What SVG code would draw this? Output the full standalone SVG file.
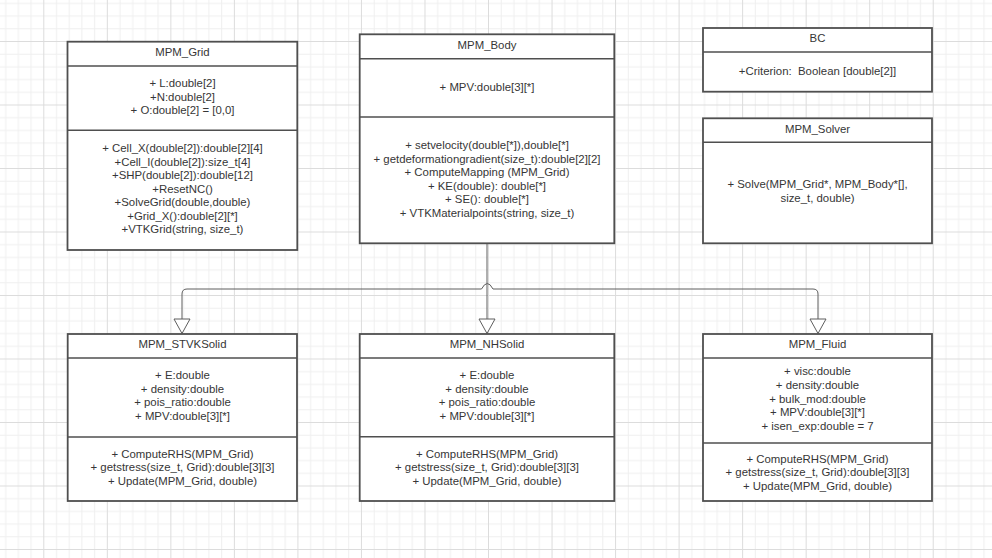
<svg xmlns="http://www.w3.org/2000/svg" width="992" height="558" viewBox="0 0 992 558">
  <defs>
    <!-- background grid: 5 minor cells per major cell -->
    <pattern id="grid" patternUnits="userSpaceOnUse" x="43.3" y="41" width="63.53" height="63.5">
      <g fill="#efefef">
        <rect x="12.7" y="0" width="1" height="63.5"/>
        <rect x="25.4" y="0" width="1" height="63.5"/>
        <rect x="38.1" y="0" width="1" height="63.5"/>
        <rect x="50.8" y="0" width="1" height="63.5"/>
        <rect x="0" y="12.7" width="63.53" height="1"/>
        <rect x="0" y="25.4" width="63.53" height="1"/>
        <rect x="0" y="38.1" width="63.53" height="1"/>
        <rect x="0" y="50.8" width="63.53" height="1"/>
      </g>
      <g fill="#dcdcdc">
        <rect x="0" y="0" width="1" height="63.5"/>
        <rect x="0" y="0" width="63.53" height="1"/>
      </g>
    </pattern>
  </defs>
  <style>
    .box { fill: #ffffff; stroke: #4f4f4f; stroke-width: 1.8; }
    .sep { stroke: #4f4f4f; stroke-width: 1.5; fill: none; }
    text { font-family: "Liberation Sans", Arial, sans-serif; font-size: 11.4px; fill: #363636; text-anchor: middle; }
    .edge { fill: none; stroke: #5e5e5e; stroke-width: 1; }
    .head { fill: #ffffff; stroke: #5e5e5e; stroke-width: 1; }
  </style>

  <rect x="0" y="0" width="992" height="558" fill="#ffffff"/>
  <rect x="0" y="0" width="992" height="558" fill="url(#grid)"/>

  <!-- generalization connectors from MPM_Body to the three subclasses -->
  <g id="connectors">
    <path class="edge" d="M487,243.3 V319"/>
    <path class="edge" d="M481.5,289 H187 Q182,289 182,294 V319"/>
    <path class="edge" d="M481.5,289 Q487.3,278 493,289 H813 Q818,289 818,294 V319"/>
    <polygon class="head" points="174,319 190,319 182,333.5"/>
    <polygon class="head" points="479,319 495,319 487,333.5"/>
    <polygon class="head" points="810,319 826,319 818,333.5"/>
  </g>

  <g id="MPM_Grid">
    <rect class="box" x="67.5" y="41.7" width="229.8" height="208.3"/>
    <line class="sep" x1="67.5" y1="66" x2="297.3" y2="66"/>
    <line class="sep" x1="67.5" y1="130.3" x2="297.3" y2="130.3"/>
    <text x="182.5" y="56.3">MPM_Grid</text>
    <text x="182.5" y="87.3">+ L:double[2]</text>
    <text x="182.5" y="100.8">+N:double[2]</text>
    <text x="182.5" y="114.3">+ O:double[2] = [0,0]</text>
    <text x="182.5" y="152.3">+ Cell_X(double[2]):double[2][4]</text>
    <text x="182.5" y="165.8">+Cell_I(double[2]):size_t[4]</text>
    <text x="182.5" y="179.3">+SHP(double[2]):double[12]</text>
    <text x="182.5" y="192.8">+ResetNC()</text>
    <text x="182.5" y="206.3">+SolveGrid(double,double)</text>
    <text x="182.5" y="219.8">+Grid_X():double[2][*]</text>
    <text x="182.5" y="233.3">+VTKGrid(string, size_t)</text>
  </g>

  <g id="MPM_Body">
    <rect class="box" x="359.7" y="34.3" width="254.6" height="209"/>
    <line class="sep" x1="359.7" y1="58.7" x2="614.3" y2="58.7"/>
    <line class="sep" x1="359.7" y1="117" x2="614.3" y2="117"/>
    <text x="487" y="49.3">MPM_Body</text>
    <text x="487" y="91.3">+ MPV:double[3][*]</text>
    <text x="487" y="149">+ setvelocity(double[*]),double[*]</text>
    <text x="487" y="162.6">+ getdeformationgradient(size_t):double[2][2]</text>
    <text x="487" y="176.2">+ ComputeMapping (MPM_Grid)</text>
    <text x="487" y="189.8">+ KE(double): double[*]</text>
    <text x="487" y="203.4">+ SE(): double[*]</text>
    <text x="487" y="217">+ VTKMaterialpoints(string, size_t)</text>
  </g>

  <g id="BC">
    <rect class="box" x="703" y="28" width="229" height="63.7"/>
    <line class="sep" x1="703" y1="52" x2="932" y2="52"/>
    <text x="817.5" y="42.3">BC</text>
    <text x="817.5" y="74.7" xml:space="preserve">+Criterion:  Boolean [double[2]]</text>
  </g>

  <g id="MPM_Solver">
    <rect class="box" x="703" y="118.3" width="229" height="125"/>
    <line class="sep" x1="703" y1="142.3" x2="932" y2="142.3"/>
    <text x="817.5" y="132.7">MPM_Solver</text>
    <text x="817.5" y="188.3">+ Solve(MPM_Grid*, MPM_Body*[],</text>
    <text x="817.5" y="202">size_t, double)</text>
  </g>

  <g id="MPM_STVKSolid">
    <rect class="box" x="67.7" y="334" width="229.3" height="167"/>
    <line class="sep" x1="67.7" y1="358" x2="297" y2="358"/>
    <line class="sep" x1="67.7" y1="437" x2="297" y2="437"/>
    <text x="182.5" y="348.3">MPM_STVKSolid</text>
    <text x="182.5" y="379">+ E:double</text>
    <text x="182.5" y="392.6">+ density:double</text>
    <text x="182.5" y="406.2">+ pois_ratio:double</text>
    <text x="182.5" y="419.8">+ MPV:double[3][*]</text>
    <text x="182.5" y="457.5">+ ComputeRHS(MPM_Grid)</text>
    <text x="182.5" y="471">+ getstress(size_t, Grid):double[3][3]</text>
    <text x="182.5" y="484.5">+ Update(MPM_Grid, double)</text>
  </g>

  <g id="MPM_NHSolid">
    <rect class="box" x="359.7" y="334" width="254.6" height="167"/>
    <line class="sep" x1="359.7" y1="358" x2="614.3" y2="358"/>
    <line class="sep" x1="359.7" y1="436.7" x2="614.3" y2="436.7"/>
    <text x="487" y="348.3">MPM_NHSolid</text>
    <text x="487" y="379">+ E:double</text>
    <text x="487" y="392.6">+ density:double</text>
    <text x="487" y="406.2">+ pois_ratio:double</text>
    <text x="487" y="419.8">+ MPV:double[3][*]</text>
    <text x="487" y="457.5">+ ComputeRHS(MPM_Grid)</text>
    <text x="487" y="471">+ getstress(size_t, Grid):double[3][3]</text>
    <text x="487" y="484.5">+ Update(MPM_Grid, double)</text>
  </g>

  <g id="MPM_Fluid">
    <rect class="box" x="703" y="334" width="229" height="167"/>
    <line class="sep" x1="703" y1="358" x2="932" y2="358"/>
    <line class="sep" x1="703" y1="443" x2="932" y2="443"/>
    <text x="817.5" y="348.3">MPM_Fluid</text>
    <text x="817.5" y="375.2">+ visc:double</text>
    <text x="817.5" y="388.9">+ density:double</text>
    <text x="817.5" y="402.6">+ bulk_mod:double</text>
    <text x="817.5" y="416.3">+ MPV:double[3][*]</text>
    <text x="817.5" y="430">+ isen_exp:double = 7</text>
    <text x="817.5" y="462.5">+ ComputeRHS(MPM_Grid)</text>
    <text x="817.5" y="476">+ getstress(size_t, Grid):double[3][3]</text>
    <text x="817.5" y="489.5">+ Update(MPM_Grid, double)</text>
  </g>
</svg>
